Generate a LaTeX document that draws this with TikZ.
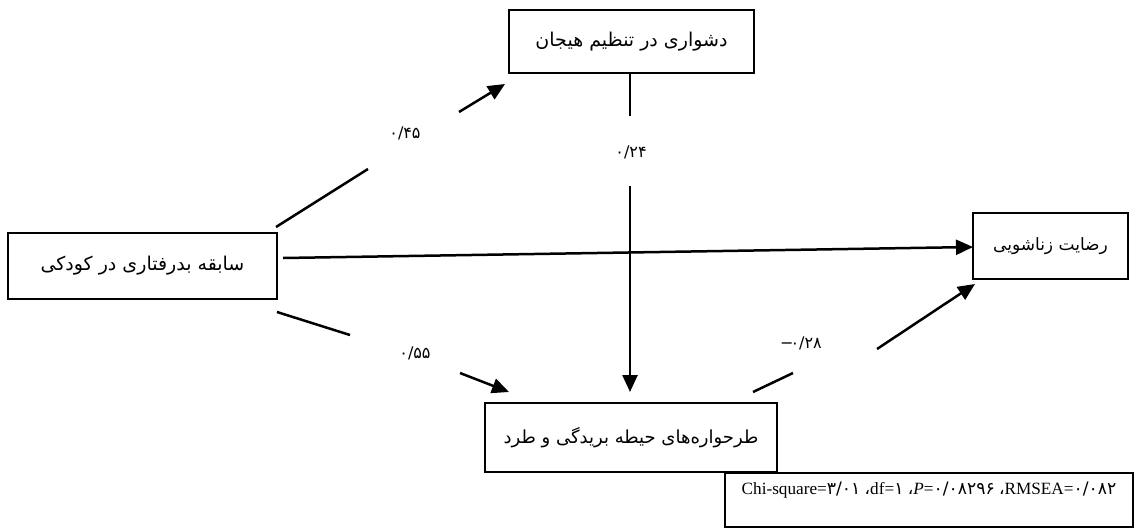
\documentclass[tikz,border=0pt]{standalone}
\usepackage{fontspec}
\setmainfont{Liberation Serif}
\newfontfamily\arabicfont[Script=Arabic]{DejaVu Sans}
\newfontfamily\digitfont{DejaVu Sans}
\TeXXeTstate=1
\usetikzlibrary{arrows.meta}
\begin{document}
\begin{tikzpicture}[x=1pt,y=-1pt,
  box/.style={draw,line width=1.3pt,inner sep=0pt,font=\arabicfont\fontsize{19}{21}\selectfont},
  conn/.style={line width=2.5pt},
  arr/.style={line width=2.5pt,-{Triangle[length=17pt,width=15pt]}},
  coef/.style={font=\digitfont\fontsize{16}{18}\selectfont,inner sep=1pt}]
\useasboundingbox (0,0) rectangle (1142,528);
\node[box,minimum width=245,minimum height=63] (top) at (631.5,41.5) {\beginR دشواری در تنظیم هیجان\endR};
\node[box,minimum width=269,minimum height=66] (left) at (142.5,266) {\beginR سابقه بدرفتاری در کودکی\endR};
\node[box,minimum width=155,minimum height=66,font=\arabicfont\fontsize{17}{19}\selectfont] (right) at (1050.5,246) {\beginR رضایت زناشویی\endR};
\node[box,minimum width=292,minimum height=69,font=\arabicfont\fontsize{18}{20}\selectfont] (bottom) at (631,437.5) {\beginR طرحواره‌های حیطه بریدگی و طرد\endR};
\node[draw,line width=1.3pt,minimum width=408,minimum height=54,inner sep=0pt] (stats) at (929,500) {};
\node[inner sep=0pt,font=\fontsize{17.2}{19}\selectfont] (statstext) at (929,490) {Chi-square={\digitfont ۳/۰۱} {\arabicfont ،}df={\digitfont ۱} {\arabicfont ،}\textit{P}={\digitfont ۰/۰۸۲۹۶} {\arabicfont ،}RMSEA={\digitfont ۰/۰۸۲}};
% coordinates for broken connectors
\coordinate (a1s) at (276,227);
\coordinate (a1e) at (368,169);
\coordinate (a1f) at (459,112);
\coordinate (a1t) at (505,84);
\coordinate (a2s) at (630,73);
\coordinate (a2e) at (630,116);
\coordinate (a2f) at (630,186);
\coordinate (a2t) at (630,392);
\coordinate (a3s) at (283,258);
\coordinate (a3t) at (973,247);
\coordinate (a4s) at (277,312);
\coordinate (a4e) at (350,335);
\coordinate (a4f) at (460,373);
\coordinate (a4t) at (509,392);
\coordinate (a5s) at (753,392);
\coordinate (a5e) at (793,373);
\coordinate (a5f) at (877,349);
\coordinate (a5t) at (975,284);
\draw[conn] (a1s) -- (a1e);
\draw[arr] (a1f) -- (a1t);
\draw[conn] (a2s) -- (a2e);
\draw[arr] (a2f) -- (a2t);
\draw[arr] (a3s) -- (a3t);
\draw[conn] (a4s) -- (a4e);
\draw[arr] (a4f) -- (a4t);
\draw[conn] (a5s) -- (a5e);
\draw[arr] (a5f) -- (a5t);
\node[coef] (l1) at (405,133) {۰/۴۵};
\node[coef] (l2) at (631,152) {۰/۲۴};
\node[coef] (l3) at (415,353) {۰/۵۵};
\node[coef] (l4) at (801,343) {−\kern-3pt۰/۲۸};
\end{tikzpicture}
\end{document}
